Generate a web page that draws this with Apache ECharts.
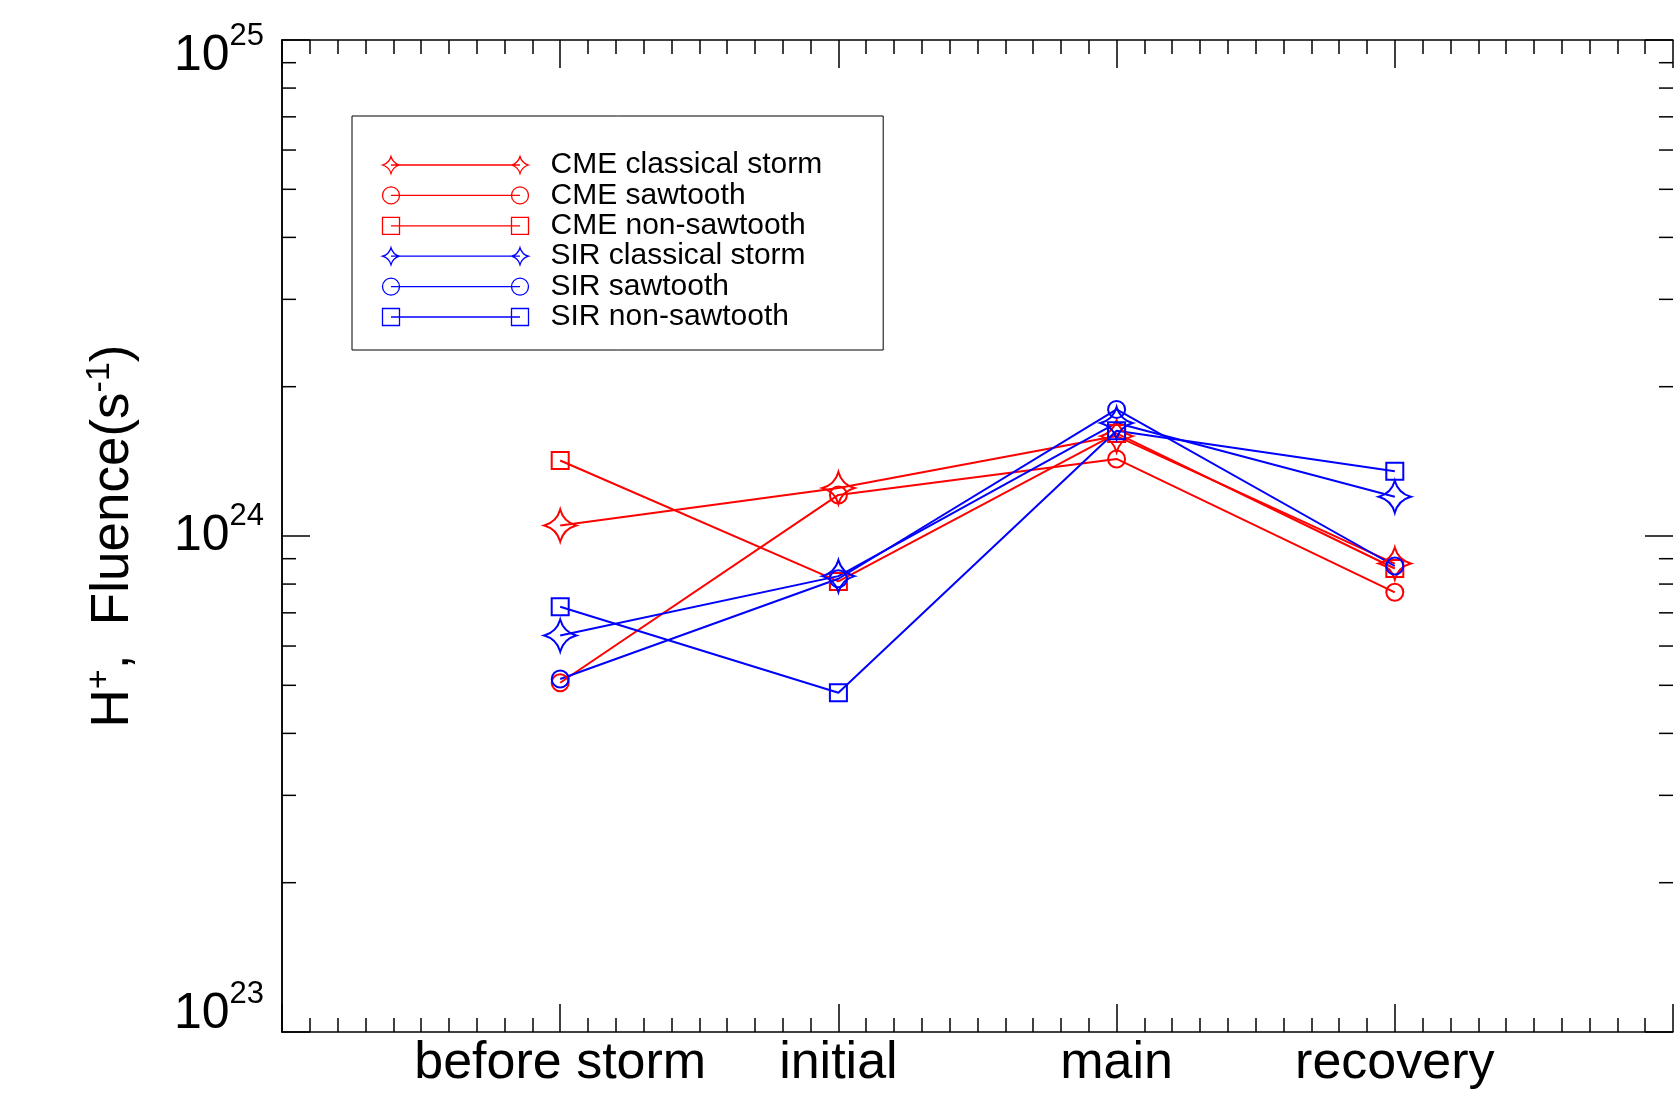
<!DOCTYPE html>
<html>
<head>
<meta charset="utf-8">
<script src="https://cdn.jsdelivr.net/npm/echarts@6/dist/echarts.min.js"></script>
<style>
html, body { margin: 0; padding: 0; background: #fff; }
#chart { width: 1679px; height: 1100px; }
</style>
</head>
<body>
<div id="chart"></div>
<script>
// phases on the x axis (placed at 1..4 on a 0..5 axis)
var categories = ['before storm', 'initial', 'main', 'recovery'];

// H+ fluence (s^-1)
var cmeClassical   = [1.05e24, 1.25e24, 1.59e24, 8.8e23];
var cmeSawtooth    = [5.06e23, 1.21e24, 1.43e24, 7.7e23];
var cmeNonSawtooth = [1.42e24, 8.1e23, 1.61e24, 8.6e23];
var sirClassical   = [6.3e23, 8.3e23, 1.69e24, 1.2e24];
var sirSawtooth    = [5.15e23, 8.2e23, 1.80e24, 8.7e23];
var sirNonSawtooth = [7.2e23, 4.83e23, 1.63e24, 1.35e24];

// ticks of the log axis
var yMajorTicks = [1e23, 1e24, 1e25];
var yMinorTicks = [2e23, 3e23, 4e23, 5e23, 6e23, 7e23, 8e23, 9e23,
                   2e24, 3e24, 4e24, 5e24, 6e24, 7e24, 8e24, 9e24];

var RED = '#ff0000', BLUE = '#0000ff';
var FONT = "'Liberation Sans', Helvetica, Arial, sans-serif";

var STAR = 'path://M0,-16 Q3.5,-3.5 16,0 Q3.5,3.5 0,16 Q-3.5,3.5 -16,0 Q-3.5,-3.5 0,-16 Z';

// legend icons: line with a marker at each end (146 x 17 box)
var ICON_STAR = 'path://M8.5,0 Q10.4,6.6 17,8.5 Q10.4,10.4 8.5,17 Q6.6,10.4 0,8.5 Q6.6,6.6 8.5,0 Z' +
    'M137.5,0 Q139.4,6.6 146,8.5 Q139.4,10.4 137.5,17 Q135.6,10.4 129,8.5 Q135.6,6.6 137.5,0 Z' +
    'M8.5,8.5 L137.5,8.5';
var ICON_CIRCLE = 'path://M0,8.5 A8.5,8.5 0 1 1 17,8.5 A8.5,8.5 0 1 1 0,8.5 Z' +
    'M129,8.5 A8.5,8.5 0 1 1 146,8.5 A8.5,8.5 0 1 1 129,8.5 Z' +
    'M8.5,8.5 L137.5,8.5';
var ICON_RECT = 'path://M0,0 L17,0 L17,17 L0,17 Z M129,0 L146,0 L146,17 L129,17 Z M8.5,8.5 L137.5,8.5';

function pts(values) {
    return values.map(function (v, i) { return [i + 1, v]; });
}

function lineSeries(name, values, color, symbol, size) {
    return {
        name: name,
        type: 'line',
        data: pts(values),
        symbol: symbol,
        symbolSize: size,
        symbolKeepAspect: true,
        showAllSymbol: true,
        lineStyle: { color: color, width: 2 },
        itemStyle: { color: 'rgba(0,0,0,0)', borderColor: color, borderWidth: 2 },
        emphasis: { disabled: true },
        animation: false,
        z: 3
    };
}

// inward ticks on both the left and right frame
function tickSeries(values, len) {
    return {
        type: 'custom',
        silent: true,
        xAxisIndex: 0,
        yAxisIndex: 0,
        data: values.map(function (v) { return [0, v]; }),
        renderItem: function (params, api) {
            var v = api.value(1);
            var l = api.coord([0, v]);
            var r = api.coord([5, v]);
            var st = { stroke: '#000', lineWidth: 1.5 };
            return {
                type: 'group',
                children: [
                    { type: 'line', shape: { x1: l[0], y1: l[1], x2: l[0] + len, y2: l[1] }, style: st },
                    { type: 'line', shape: { x1: r[0] - len, y1: r[1], x2: r[0], y2: r[1] }, style: st }
                ]
            };
        },
        z: 1
    };
}

function legendItem(name, icon, color) {
    return {
        name: name,
        icon: icon,
        itemStyle: { color: 'none', borderColor: color, borderWidth: 1.3 }
    };
}

// top label pushed down, bottom label pushed up, like the original
function yLabel(value) {
    var e = Math.round(Math.log(value) / Math.LN10);
    if (e === 25) return '{bt|10}{st|' + e + '}';
    if (e === 23) return '{bb|10}{sb|' + e + '}';
    return '{b|10}{s|' + e + '}';
}

var myChart = echarts.init(document.getElementById('chart'));

var base = { fontFamily: FONT, fontSize: 50, color: '#000' };
var sup = { fontFamily: FONT, fontSize: 31, color: '#000' };

var option = {
    backgroundColor: '#fff',
    animation: false,
    textStyle: { fontFamily: FONT, color: '#000' },
    grid: { left: 282, top: 40, right: 6, bottom: 68, containLabel: false },
    legend: {
        orient: 'vertical',
        left: 352,
        top: 116,
        padding: [34, 61, 18, 28],
        itemGap: 0.4,
        itemWidth: 146,
        itemHeight: 17,
        selectedMode: false,
        borderColor: '#000',
        borderWidth: 1,
        textStyle: { fontFamily: FONT, fontSize: 30, color: '#000', lineHeight: 30, padding: [0, 0, 0, 17] },
        data: [
            legendItem('CME classical storm', ICON_STAR, RED),
            legendItem('CME sawtooth', ICON_CIRCLE, RED),
            legendItem('CME non-sawtooth', ICON_RECT, RED),
            legendItem('SIR classical storm', ICON_STAR, BLUE),
            legendItem('SIR sawtooth', ICON_CIRCLE, BLUE),
            legendItem('SIR non-sawtooth', ICON_RECT, BLUE)
        ]
    },
    xAxis: [
        {
            type: 'value', min: 0, max: 5, interval: 1,
            position: 'bottom',
            axisLine: { show: true, lineStyle: { color: '#000', width: 1.5 } },
            axisTick: { show: true, inside: true, length: 28, lineStyle: { color: '#000', width: 1.5 } },
            minorTick: { show: true, splitNumber: 10, length: 14, lineStyle: { color: '#000', width: 1.5 } },
            splitLine: { show: false },
            axisLabel: {
                margin: 6,
                fontFamily: FONT, fontSize: 52, color: '#000',
                formatter: function (v) { return categories[v - 1] || ''; }
            }
        },
        {
            type: 'value', min: 0, max: 5, interval: 1,
            position: 'top',
            axisLine: { show: true, lineStyle: { color: '#000', width: 1.5 } },
            axisTick: { show: true, inside: true, length: 28, lineStyle: { color: '#000', width: 1.5 } },
            minorTick: { show: true, splitNumber: 10, length: 14, lineStyle: { color: '#000', width: 1.5 } },
            splitLine: { show: false },
            axisLabel: { show: false }
        }
    ],
    yAxis: [
        {
            type: 'log', logBase: 10, min: 1e23, max: 1e25,
            position: 'left',
            name: '{n|H}{sp|+}{n|,  Fluence(s}{sp|-1}{n|)}',
            nameLocation: 'middle',
            nameRotate: 90,
            nameGap: 139,
            nameTextStyle: {
                rich: {
                    n: { fontFamily: FONT, fontSize: 53, color: '#000' },
                    sp: { fontFamily: FONT, fontSize: 34, color: '#000', padding: [0, 0, 26, 0] }
                }
            },
            axisLine: { show: true, lineStyle: { color: '#000', width: 1.5 } },
            axisTick: { show: false },
            splitLine: { show: false },
            axisLabel: {
                margin: 18,
                formatter: yLabel,
                rich: {
                    b: base,
                    s: Object.assign({ padding: [0, 0, 40, 0] }, sup),
                    bt: Object.assign({ padding: [32, 0, 0, 0] }, base),
                    st: Object.assign({ padding: [32, 0, 40, 0] }, sup),
                    bb: Object.assign({ padding: [0, 0, 36, 0] }, base),
                    sb: Object.assign({ padding: [0, 0, 76, 0] }, sup)
                }
            }
        },
        {
            type: 'log', logBase: 10, min: 1e23, max: 1e25,
            position: 'right',
            axisLine: { show: true, lineStyle: { color: '#000', width: 1.5 } },
            axisTick: { show: false },
            splitLine: { show: false },
            axisLabel: { show: false }
        }
    ],
    series: [
        tickSeries(yMajorTicks, 28),
        tickSeries(yMinorTicks, 14),
        lineSeries('CME classical storm', cmeClassical, RED, STAR, 32),
        lineSeries('CME sawtooth', cmeSawtooth, RED, 'circle', 17),
        lineSeries('CME non-sawtooth', cmeNonSawtooth, RED, 'rect', 17),
        lineSeries('SIR classical storm', sirClassical, BLUE, STAR, 32),
        lineSeries('SIR sawtooth', sirSawtooth, BLUE, 'circle', 17),
        lineSeries('SIR non-sawtooth', sirNonSawtooth, BLUE, 'rect', 17)
    ]
};

myChart.setOption(option);
window.addEventListener('resize', function () { myChart.resize(); });
</script>
</body>
</html>
